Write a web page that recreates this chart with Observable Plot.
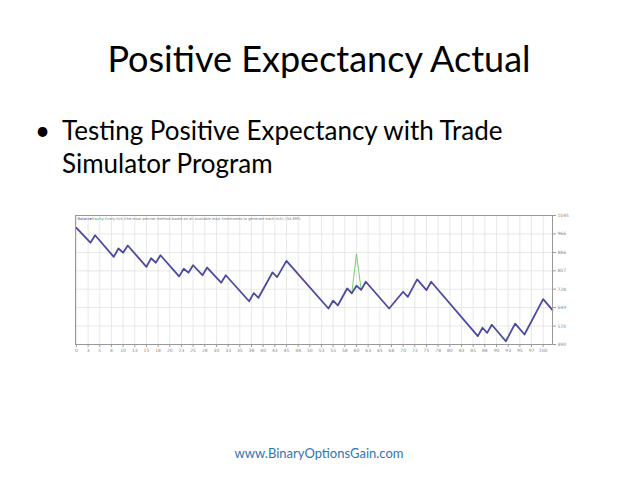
<!DOCTYPE html>
<html><head><meta charset="utf-8">
<script src="https://cdn.jsdelivr.net/npm/d3@7"></script>
<script src="https://cdn.jsdelivr.net/npm/@observablehq/plot@0.6"></script>
<style>
html,body{margin:0;padding:0;background:#fff;}
#slide{position:relative;width:638px;height:479px;overflow:hidden;font-family:Lato,"Open Sans",sans-serif;color:#000;}
#title{position:absolute;left:0;width:638px;top:37px;text-align:center;font-size:36px;line-height:1.2;white-space:nowrap;}
#bullet{position:absolute;left:62px;top:114px;font-size:26px;line-height:33px;white-space:nowrap;}
#bullet .dot{position:absolute;left:-27px;top:0;}
#chart{position:absolute;left:0;top:200px;}
#footer{position:absolute;left:0;width:638px;top:446px;text-align:center;font-size:13px;line-height:1.2;color:#2e75b6;}
</style></head>
<body>
<div id="slide">
  <div id="title">Positive Expectancy Actual</div>
  <div id="bullet"><span class="dot">•</span>Testing Positive Expectancy with Trade<br>Simulator Program</div>
  <div id="chart"></div>
  <div id="footer">www.BinaryOptionsGain.com</div>
</div>
<script>
// Balance curve vertices (trade number, balance)
const tradeNo = [0,3,4,8,9,10,11,15,16,17,18,22,23,24,25,27,28,31,32,37,38,39,42,43,45,54,55,56,58,59,60,61,62,67,70,71,73,75,76,86,87,88,89,92,94,96,100,102];
const balance = [992,928,960,867,903,885,916,824,861,842,874,783,816,799,831,788,821,756,788,676,711,691,800,780,850,645,679,658,731,710,743,725,760,645,717,695,770,724,760,526,562,540,575,504,580,533,685,638];
// Equity curve where it differs from balance
const equityTrade = [59,60,61];
const equity = [710,880,725];
// Axis ticks
const xTickValues = [0,2.5,5,7.5,10,12.5,15,17.5,20,22.5,25,27.5,30,32.5,35,37.5,40,42.5,45,47.5,50,52.5,55,57.5,60,62.5,65,67.5,70,72.5,75,77.5,80,82.5,85,87.5,90,92.5,95,97.5,100];
const xTickLabels = ["0","3","5","8","10","13","15","18","20","23","25","28","30","33","35","38","40","43","45","48","50","53","55","58","60","63","65","68","70","73","75","78","80","83","85","88","90","93","95","97","100"];
const yTickValues = [1045,966,886,807,728,649,569,490];
const yTickLabels = ["1045","966","886","807","728","649","570","490"];

const balData = tradeNo.map((t,i)=>({t, v: balance[i]}));
const eqData = equityTrade.map((t,i)=>({t, v: equity[i]}));
const xLab = new Map(xTickValues.map((v,i)=>[v, xTickLabels[i]]));
const yLab = new Map(yTickValues.map((v,i)=>[v, yTickLabels[i]]));

const chart = Plot.plot({
  width: 638, height: 170,
  marginLeft: 75, marginRight: 86, marginTop: 15, marginBottom: 26,
  style: {fontFamily: "'DejaVu Sans', sans-serif", fontSize: "4.5px", background: "transparent"},
  x: {domain: [-0.2, 102]},
  y: {domain: [490, 1045]},
  marks: [
    Plot.ruleX(xTickValues, {stroke: "#e2e2e2", strokeWidth: 0.8}),
    Plot.ruleY(yTickValues, {stroke: "#e2e2e2", strokeWidth: 0.8}),
    Plot.line(eqData, {x: "t", y: "v", stroke: "#6cc46c", strokeWidth: 0.9}),
    Plot.line(balData, {x: "t", y: "v", stroke: "#4a4a9e", strokeWidth: 1.8}),
    Plot.frame({stroke: "#999", strokeWidth: 1}),
    Plot.axisX(xTickValues, {label: null, tickFormat: d => xLab.get(d), tickSize: 3, tickPadding: 1, fill: "#888", stroke: "#999", fontSize: 4.5}),
    Plot.axisY(yTickValues, {anchor: "right", label: null, tickFormat: d => yLab.get(d), tickSize: 3, tickPadding: 2, fill: "#888", stroke: "#999", fontSize: 4.5}),
    Plot.text(["Balance"], {frameAnchor: "top-left", text: d => d, dx: 2, dy: 2, fill: "#3a3aa8", fontSize: 3.6}),
    Plot.text(["/"], {frameAnchor: "top-left", text: d => d, dx: 14.5, dy: 2, fill: "#777", fontSize: 3.6}),
    Plot.text(["Equity"], {frameAnchor: "top-left", text: d => d, dx: 16.5, dy: 2, fill: "#3aa83a", fontSize: 3.6}),
    Plot.text(["/ Every tick (the most precise method based on all available least timeframes to generate each tick) / 55.89%"], {frameAnchor: "top-left", text: d => d, dx: 27, dy: 2, fill: "#777", fontSize: 3.6})
  ]
});
document.getElementById("chart").appendChild(chart);
</script>
</body></html>
